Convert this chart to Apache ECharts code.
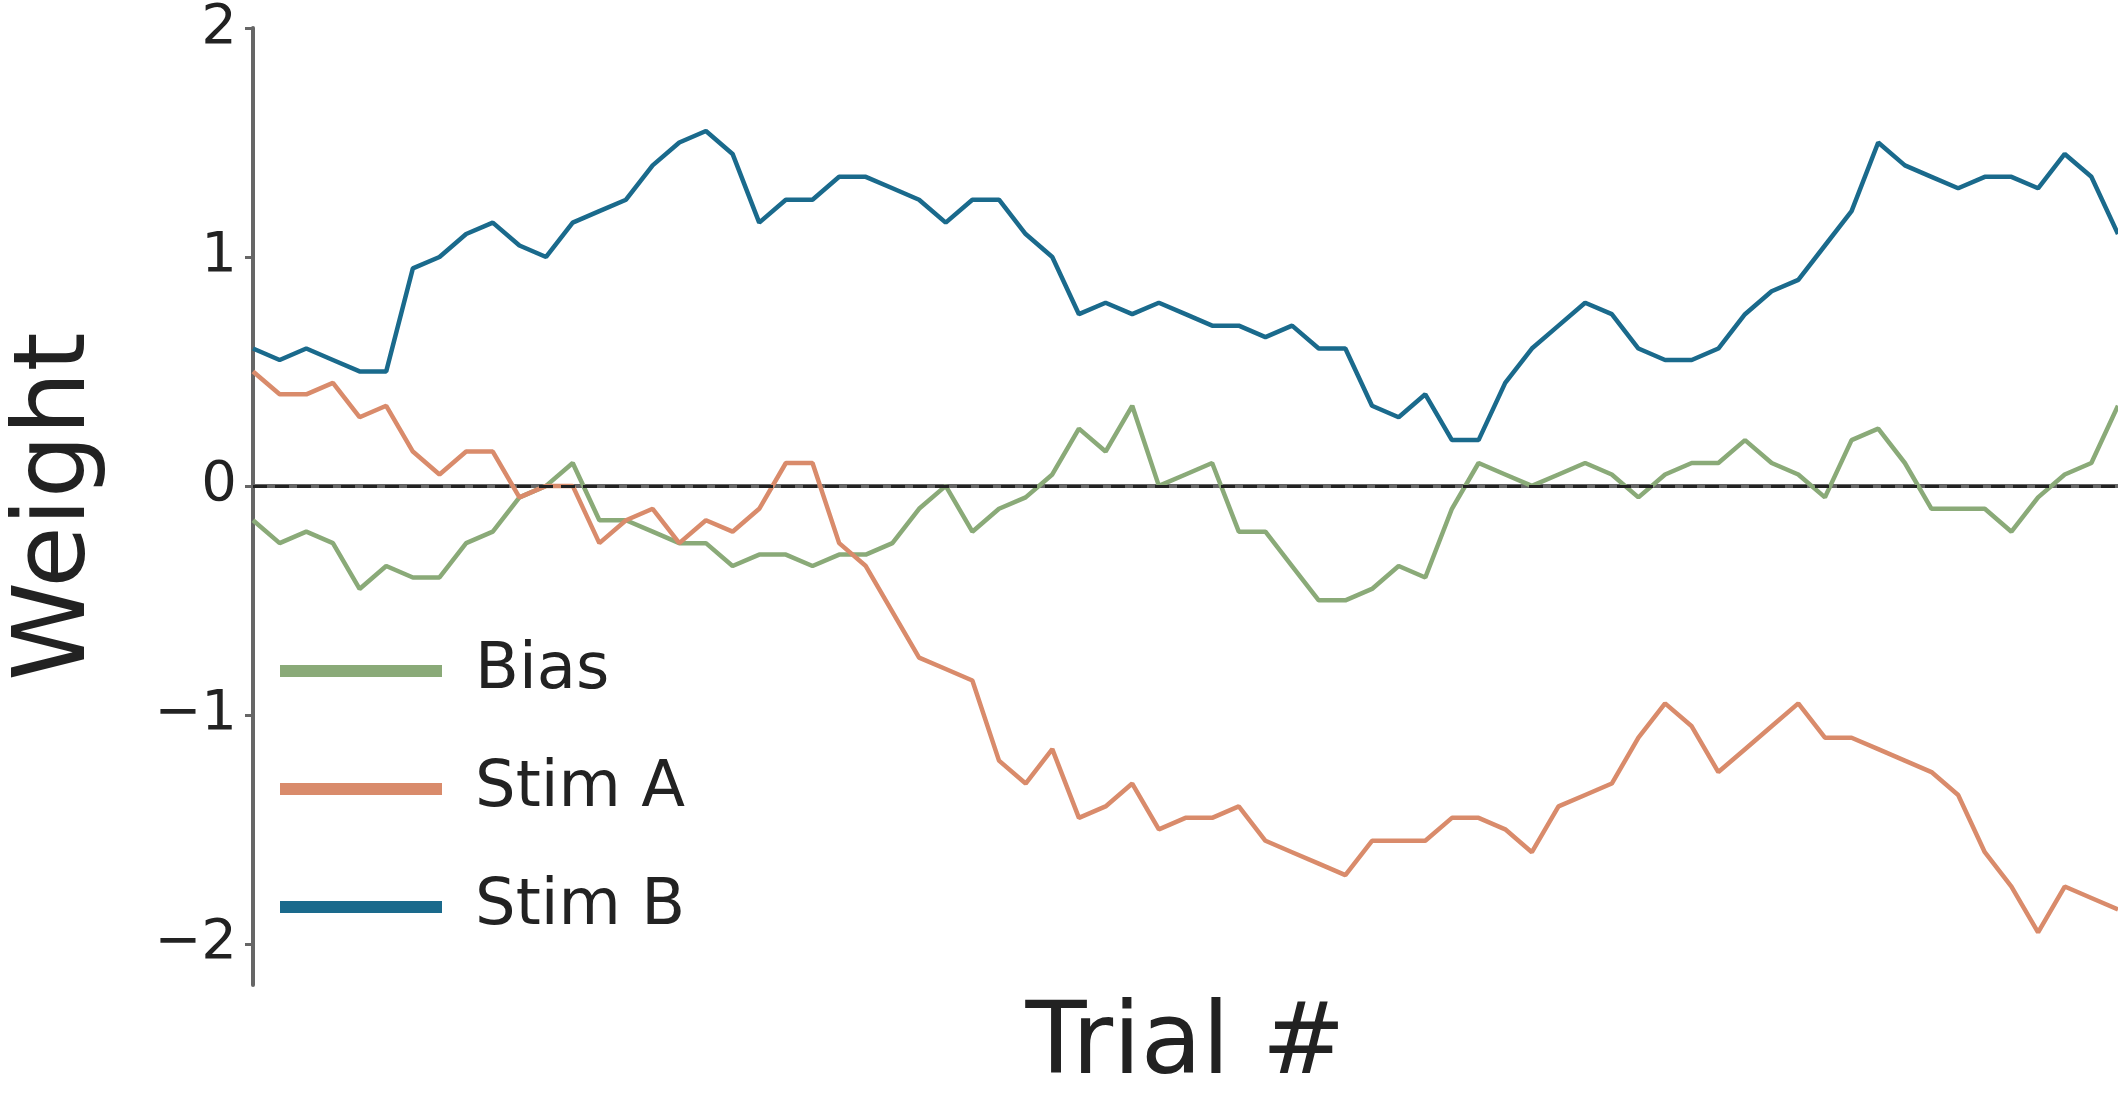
<!DOCTYPE html>
<html>
<head>
<meta charset="utf-8">
<script src="https://cdn.jsdelivr.net/npm/echarts@6/dist/echarts.min.js"></script>
<style>html,body{margin:0;padding:0;background:#fff}#container{width:2118px;height:1102px}</style>
</head>
<body>
<div id="container"></div>
<script>
const stimB = [0.6,0.55,0.6,0.55,0.5,0.5,0.95,1.0,1.1,1.15,1.05,1.0,1.15,1.2,1.25,1.4,1.5,1.55,1.45,1.15,1.25,1.25,1.35,1.35,1.3,1.25,1.15,1.25,1.25,1.1,1.0,0.75,0.8,0.75,0.8,0.75,0.7,0.7,0.65,0.7,0.6,0.6,0.35,0.3,0.4,0.2,0.2,0.45,0.6,0.7,0.8,0.75,0.6,0.55,0.55,0.6,0.75,0.85,0.9,1.05,1.2,1.5,1.4,1.35,1.3,1.35,1.35,1.3,1.45,1.35,1.1];
const stimA = [0.5,0.4,0.4,0.45,0.3,0.35,0.15,0.05,0.15,0.15,-0.05,0.0,0.0,-0.25,-0.15,-0.1,-0.25,-0.15,-0.2,-0.1,0.1,0.1,-0.25,-0.35,-0.55,-0.75,-0.8,-0.85,-1.2,-1.3,-1.15,-1.45,-1.4,-1.3,-1.5,-1.45,-1.45,-1.4,-1.55,-1.6,-1.65,-1.7,-1.55,-1.55,-1.55,-1.45,-1.45,-1.5,-1.6,-1.4,-1.35,-1.3,-1.1,-0.95,-1.05,-1.25,-1.15,-1.05,-0.95,-1.1,-1.1,-1.15,-1.2,-1.25,-1.35,-1.6,-1.75,-1.95,-1.75,-1.8,-1.85];
const bias = [-0.15,-0.25,-0.2,-0.25,-0.45,-0.35,-0.4,-0.4,-0.25,-0.2,-0.05,0.0,0.1,-0.15,-0.15,-0.2,-0.25,-0.25,-0.35,-0.3,-0.3,-0.35,-0.3,-0.3,-0.25,-0.1,0.0,-0.2,-0.1,-0.05,0.05,0.25,0.15,0.35,0.0,0.05,0.1,-0.2,-0.2,-0.35,-0.5,-0.5,-0.45,-0.35,-0.4,-0.1,0.1,0.05,0.0,0.05,0.1,0.05,-0.05,0.05,0.1,0.1,0.2,0.1,0.05,-0.05,0.2,0.25,0.1,-0.1,-0.1,-0.1,-0.2,-0.05,0.05,0.1,0.35];
const yTicks = [-2,-1,0,1,2];

let myChart = echarts.init(document.getElementById("container"));
const pts = arr => arr.map((v, i) => [i, v]);
const font = 'DejaVu Sans';
let option = {
    animation: false,
    textStyle: { fontFamily: font },
    grid: { left: 212, top: 24, right: 0, bottom: 104 },
    legend: {
        data: ['Bias', 'Stim A', 'Stim B'],
        orient: 'vertical', left: 275, top: 634,
        icon: 'rect', itemWidth: 162, itemHeight: 12, itemGap: 54,
        textStyle: { fontSize: 64, color: '#222', fontFamily: font, padding: [0, 0, 0, 28] }
    },
    xAxis: {
        type: 'value', min: 0, max: 70,
        axisLine: { lineStyle: { color: '#666', width: 4 } },
        axisTick: { show: false }, axisLabel: { show: false }, splitLine: { show: false },
        name: 'Trial #', nameLocation: 'middle', nameGap: 12,
        nameTextStyle: { fontSize: 100, color: '#222', fontFamily: font, verticalAlign: 'top' }
    },
    yAxis: {
        type: 'value', min: -2.18, max: 2,
        axisLine: { show: true, lineStyle: { color: '#666', width: 4 } },
        axisTick: { show: true, customValues: yTicks, length: 8, lineStyle: { color: '#666', width: 3 } },
        axisLabel: { customValues: yTicks, fontSize: 56, color: '#222', margin: 16,
            formatter: v => v < 0 ? '\u2212' + (-v) : String(v) },
        splitLine: { show: false },
        name: 'Weight', nameLocation: 'middle', nameGap: 145,
        nameTextStyle: { fontSize: 100, color: '#222', fontFamily: font }
    },
    series: [
        { name: 'Bias', type: 'line', data: pts(bias), showSymbol: false,
          lineStyle: { width: 4.5 }, color: '#8aaa78' },
        { name: 'Stim A', type: 'line', data: pts(stimA), showSymbol: false,
          lineStyle: { width: 4.5 }, color: '#d98b6b' },
        { name: 'Stim B', type: 'line', data: pts(stimB), showSymbol: false,
          lineStyle: { width: 4.5 }, color: '#1a6a8c',
          markLine: { silent: true, symbol: 'none', label: { show: false },
            lineStyle: { color: '#222', type: [14, 8], width: 3 },
            data: [{ yAxis: 0 }] } }
    ]
};
myChart.setOption(option, true);
</script>
</body>
</html>
